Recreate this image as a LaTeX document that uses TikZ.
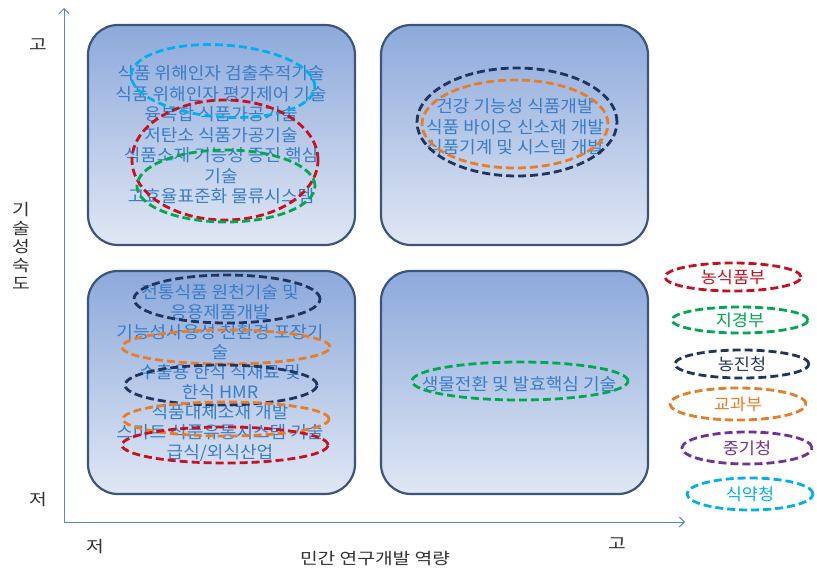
\documentclass[tikz,border=0pt]{standalone}
\usepackage{fontspec}
\setmainfont{Noto Sans CJK KR}
\newfontfamily\krfont[FakeStretch=1.06]{Noto Sans CJK KR}
\newfontfamily\axfont[FakeStretch=1.2]{Noto Sans CJK KR}
\usetikzlibrary{shapes.geometric,arrows.meta}
\definecolor{boxtop}{RGB}{141,169,219}
\definecolor{boxbot}{RGB}{224,231,244}
\definecolor{boxline}{RGB}{60,85,125}
\definecolor{txtblue}{RGB}{55,125,200}
\definecolor{cred}{RGB}{200,16,30}
\definecolor{cgreen}{RGB}{0,168,80}
\definecolor{cnavy}{RGB}{31,52,95}
\definecolor{corange}{RGB}{232,125,40}
\definecolor{cpurple}{RGB}{112,48,160}
\definecolor{ccyan}{RGB}{0,176,236}
\definecolor{axisblue}{RGB}{90,135,190}
\definecolor{labgray}{RGB}{50,50,50}
\begin{document}
\begin{tikzpicture}[x=1pt,y=-1pt,
  quad/.style={draw=boxline, line width=2.2pt, rounded corners=30pt, top color=boxtop, bottom color=boxbot, inner sep=0},
  qtext/.style={text=txtblue, align=center, font=\krfont\fontsize{17}{20.5}\selectfont, inner sep=0},
  ell/.style={ellipse, dashed, line width=2.8pt, dash pattern=on 8pt off 4pt, inner sep=0},
  leg/.style={ell, font=\krfont\fontsize{16.5}{20}\selectfont},
  axislab/.style={text=labgray, font=\axfont\fontsize{16}{18.5}\selectfont, inner sep=0},
  axisline/.style={draw=axisblue, line width=1pt}
]
\useasboundingbox (0,0) rectangle (817,570);

% quadrants
\node[quad, minimum width=267pt, minimum height=220pt] (tl) at (221.5,135) {};
\node[quad, minimum width=267pt, minimum height=220pt] (tr) at (514.5,135) {};
\node[quad, minimum width=267pt, minimum height=223pt] (bl) at (221.5,382.5) {};
\node[quad, minimum width=267pt, minimum height=223pt] (br) at (514.5,382.5) {};

% axes
\coordinate (origin) at (64,522);
\coordinate (ytip) at (64,8);
\coordinate (xtip) at (685,522);
\draw[axisline, {Straight Barb[length=5pt,width=10pt]}-{Straight Barb[length=5pt,width=10pt]}] (ytip) -- (origin) -- (xtip);

% texts
\node[qtext] (tlt) at (221,135) {식품 위해인자 검출추적기술\\식품 위해인자 평가제어 기술\\융복합 식품가공기술\\저탄소 식품가공기술\\식품소재 기능성 증진 핵심\\기술\\고효율표준화 물류시스템};
\node[qtext] (trt) at (515,127) {건강 기능성 식품개발\\식품 바이오 신소재 개발\\식품기계 및 시스템 개발};
\node[qtext, font=\krfont\fontsize{17}{20}\selectfont] (blt) at (220,373) {전통식품 원천기술 및\\응용제품개발\\기능성사용성 친환경 포장기\\술\\수출용 한식 식재료 및\\한식 HMR\\식품대체소재 개발\\스마트 식품유통시스템 기술\\급식/외식산업};
\node[qtext] (brt) at (519,384) {생물전환 및 발효핵심 기술};

% ellipses top-left
\node[ell, draw=ccyan, minimum width=184pt, minimum height=72pt, rotate=-4] (tlc) at (223,81) {};
\node[ell, draw=cred, minimum width=186pt, minimum height=120pt] (tlr) at (225,160) {};
\node[ell, draw=cgreen, minimum width=178pt, minimum height=72pt] (tlg) at (226,186) {};
% top-right
\node[ell, draw=cnavy, minimum width=200pt, minimum height=108pt] (trn) at (517,122) {};
\node[ell, draw=corange, minimum width=186pt, minimum height=88pt] (tro) at (515,124) {};
% bottom-left
\node[ell, draw=cnavy, minimum width=186pt, minimum height=48pt] (bln1) at (227,299) {};
\node[ell, draw=corange, minimum width=208pt, minimum height=34pt] (blo1) at (226,347) {};
\node[ell, draw=cnavy, minimum width=192pt, minimum height=40pt] (bln2) at (221,385) {};
\node[ell, draw=corange, minimum width=206pt, minimum height=34pt] (blo2) at (226,419) {};
\node[ell, draw=cred, minimum width=206pt, minimum height=36pt] (blr) at (225,445) {};
% bottom-right
\node[ell, draw=cgreen, minimum width=216pt, minimum height=38pt] (brg) at (520,381) {};

% legend
\node[leg, draw=cred, text=cred, minimum width=136pt, minimum height=28pt] (l1) at (733,277) {농식품부};
\node[leg, draw=cgreen, text=cgreen, minimum width=136pt, minimum height=26pt] (l2) at (740,320) {지경부};
\node[leg, draw=cnavy, text=cnavy, minimum width=134pt, minimum height=28pt] (l3) at (742,364) {농진청};
\node[leg, draw=corange, text=corange, minimum width=136pt, minimum height=32pt] (l4) at (738,404) {교과부};
\node[leg, draw=cpurple, text=cpurple, minimum width=130pt, minimum height=32pt] (l5) at (747,448) {중기청};
\node[leg, draw=ccyan, text=ccyan, minimum width=126pt, minimum height=32pt] (l6) at (750,494) {식약청};

% axis labels
\node[axislab] (yhi) at (38,45) {고};
\node[axislab] (ylo) at (38,500) {저};
\node[axislab] (xlo) at (95,547) {저};
\node[axislab] (xhi) at (617,544) {고};
\node[axislab] (xname) at (375,559) {민간 연구개발 역량};
\node[axislab, align=center] (yname) at (21,246) {기\\술\\성\\숙\\도};
\end{tikzpicture}
\end{document}
